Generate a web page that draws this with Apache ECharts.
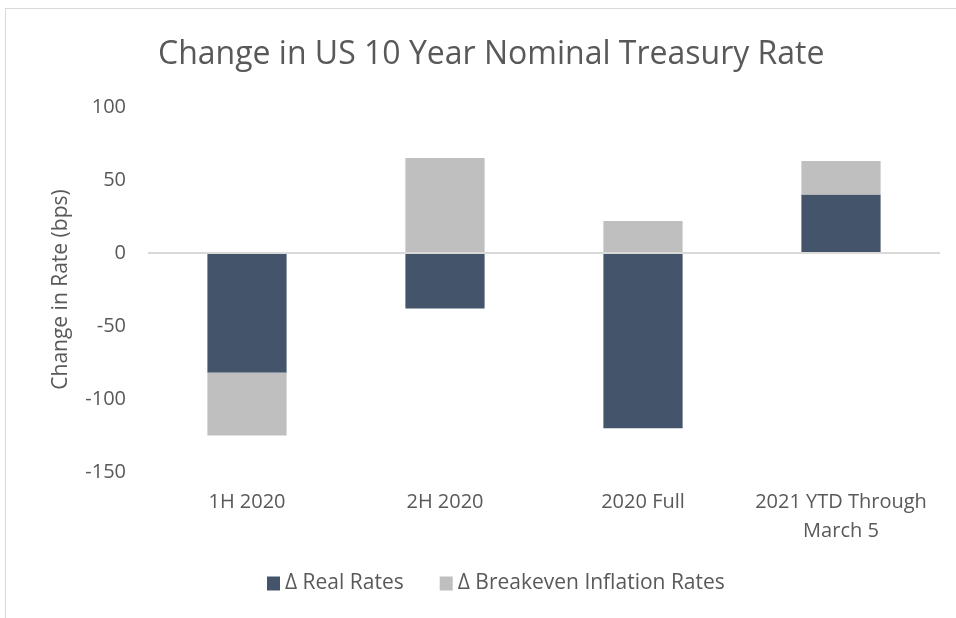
<!DOCTYPE html>
<html>
<head>
<meta charset="utf-8">
<script src="https://cdn.jsdelivr.net/npm/echarts@6/dist/echarts.min.js"></script>
<style>
  html, body { margin: 0; padding: 0; background: #fff; }
  .frame {
    position: absolute; left: 5px; top: 8px; right: 0; bottom: 0;
    border-top: 1px solid #d9d9d9; border-left: 1px solid #d9d9d9;
  }
  #chart { position: absolute; left: 0; top: 0; width: 956px; height: 618px; }
</style>
</head>
<body>
<div class="frame"></div>
<div id="chart"></div>
<script>
  const categories = ["1H 2020", "2H 2020", "2020 Full", "2021 YTD Through\nMarch 5"];
  const realRates = [-82, -38, -120, 40];
  const breakevenRates = [-43, 65, 22, 23];
  const yTicks = { min: -150, max: 100, interval: 50 };

  const textColor = "#595959";
  const font = "Open Sans";

  const chart = echarts.init(document.getElementById("chart"));

  const option = {
    backgroundColor: "transparent",
    animation: false,
    title: {
      text: "Change in US 10 Year Nominal Treasury Rate",
      left: 153,
      top: 34,
      textStyle: { color: textColor, fontSize: 32, fontWeight: "normal", fontFamily: font },
    },
    grid: { left: 148, right: 16, top: 107, bottom: 146 },
    legend: {
      bottom: 19,
      left: 262,
      itemWidth: 13,
      itemHeight: 14,
      itemGap: 36,
      icon: "rect",
      textStyle: { color: textColor, fontSize: 21, fontFamily: font },
      data: ["Δ Real Rates", "Δ Breakeven Inflation Rates"],
    },
    xAxis: {
      type: "category",
      data: categories,
      axisLine: { show: false, onZero: false },
      axisTick: { show: false },
      axisLabel: { interval: 0, color: textColor, fontSize: 20, fontFamily: font, margin: 16, lineHeight: 29 },
    },
    yAxis: {
      type: "value",
      min: yTicks.min,
      max: yTicks.max,
      interval: yTicks.interval,
      name: "Change in Rate (bps)",
      nameLocation: "middle",
      nameGap: 76,
      nameTextStyle: { color: textColor, fontSize: 21, fontFamily: font },
      axisLine: { show: false },
      axisTick: { show: false },
      splitLine: { show: false },
      axisLabel: { color: textColor, fontSize: 20, fontFamily: font, margin: 22 },
    },
    series: [
      {
        name: "Δ Real Rates",
        type: "bar",
        stack: "total",
        barWidth: "40%",
        data: realRates,
        itemStyle: { color: "#44546a" },
        markLine: {
          silent: true,
          symbol: "none",
          label: { show: false },
          lineStyle: { color: "#d9d9d9", width: 2, type: "solid" },
          data: [{ yAxis: 0 }],
        },
      },
      {
        name: "Δ Breakeven Inflation Rates",
        type: "bar",
        stack: "total",
        barWidth: "40%",
        data: breakevenRates,
        itemStyle: { color: "#bfbfbf" },
      },
    ],
  };

  chart.setOption(option);
</script>
</body>
</html>
